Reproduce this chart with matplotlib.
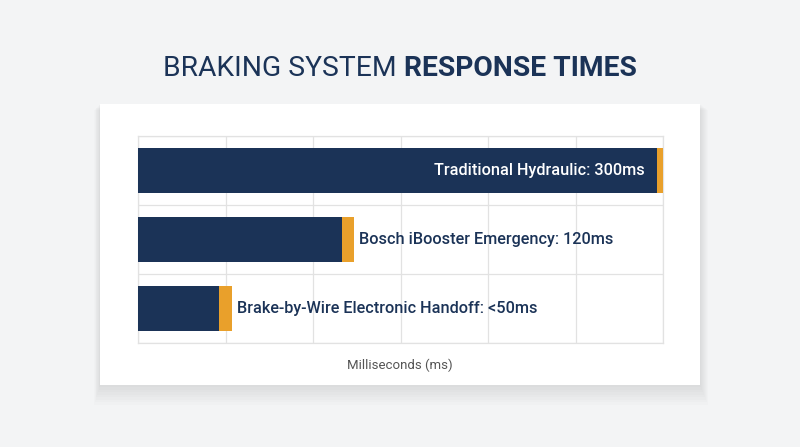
import numpy as np
import matplotlib.pyplot as plt
from matplotlib.patches import Rectangle

plt.rcParams['font.family'] = ['Roboto', 'DejaVu Sans']

# data
systems = ['Traditional Hydraulic', 'Bosch iBooster Emergency', 'Brake-by-Wire Electronic Handoff']
times_ms = [300, 120, 50]
labels = ['Traditional Hydraulic: 300ms', 'Bosch iBooster Emergency: 120ms',
          'Brake-by-Wire Electronic Handoff: <50ms']

NAVY = '#1b3357'
ORANGE = '#e9a02b'
BG = '#f3f4f5'
GRID = '#e2e2e2'
CAP = 3.5  # half width of the orange end cap, in ms

fig = plt.figure(figsize=(8, 4.47), dpi=100, facecolor=BG)

# card with a soft shadow
W, H = 800, 447
def fig_rect(x0, y0, x1, y1, **kw):
    return Rectangle((x0 / W, 1 - y1 / H), (x1 - x0) / W, (y1 - y0) / H,
                     transform=fig.transFigure, **kw)

for i in range(8):
    d = 2 + i * 2.5
    fig.patches.append(fig_rect(100 - d * 0.3, 104 + d * 0.3, 700 + d * 0.4, 385 + d,
                                facecolor='black', alpha=0.011, edgecolor='none', zorder=0))
fig.patches.append(fig_rect(100, 104, 700, 385, facecolor='white', edgecolor='none', zorder=1))

ax = fig.add_axes([138 / W, 1 - 343 / H, 525 / W, 207 / H], zorder=2)
ax.set_facecolor('white')

y = np.arange(len(times_ms))
ax.barh(y, np.array(times_ms) - CAP, height=0.65, color=NAVY, zorder=3)
ax.barh(y, 2 * CAP, left=np.array(times_ms) - CAP, height=0.65, color=ORANGE, zorder=3)

ax.set_xlim(0, 300)
ax.set_ylim(2.5, -0.5)
ax.set_xticks(np.arange(0, 301, 50))
ax.set_yticks([-0.5, 0.5, 1.5, 2.5])
ax.tick_params(length=0, labelbottom=False, labelleft=False)
ax.grid(True, color=GRID, linewidth=0.9, zorder=0)
for s in ax.spines.values():
    s.set_color(GRID)
    s.set_linewidth(0.9)

for i, (v, lab) in enumerate(zip(times_ms, labels)):
    if v >= 250:
        ax.annotate(lab, (v, i), xytext=(-13, 0), textcoords='offset points',
                    ha='right', va='center', color='white', fontsize=11.7,
                    fontweight='medium', zorder=4)
    else:
        ax.annotate(lab, (v, i), xytext=(8, 0), textcoords='offset points',
                    ha='left', va='center', color=NAVY, fontsize=11.7,
                    fontweight='medium', zorder=4)

fig.text(400 / W, 1 - 365 / H, 'Milliseconds (ms)', ha='center', va='center',
         color='#555555', fontsize=9.5)

# title: regular part + bold part, centred together
t1 = fig.text(0, 1 - 68 / H, 'BRAKING SYSTEM ', fontsize=20.3, fontweight='normal',
              color=NAVY, va='center', ha='left')
t2 = fig.text(0, 1 - 68 / H, 'RESPONSE TIMES', fontsize=20.3, fontweight='bold',
              color=NAVY, va='center', ha='left')
fig.canvas.draw()
r = fig.canvas.get_renderer()
w1 = t1.get_window_extent(r).width
w2 = t2.get_window_extent(r).width
x0 = (W - w1 - w2) / 2
t1.set_x(x0 / W)
t2.set_x((x0 + w1) / W)

fig.savefig('out.png', dpi=100, facecolor=BG)
